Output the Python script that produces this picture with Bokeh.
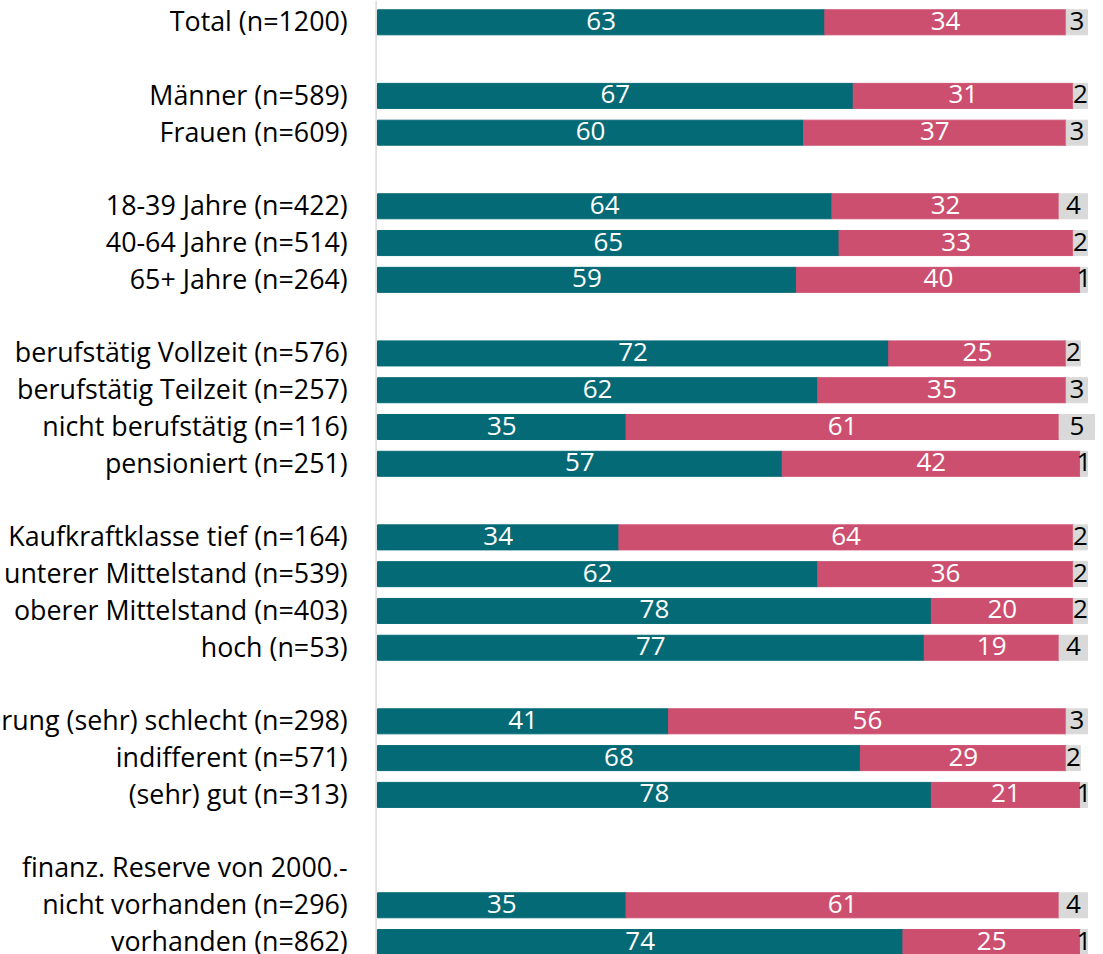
from bokeh.plotting import figure
from bokeh.models import ColumnDataSource, Range1d, Span
from bokeh.core.properties import value
from bokeh.embed import file_html
from bokeh.resources import INLINE

# Row labels ("" = empty spacer row)
categories = [
    "Total (n=1200)", "",
    "Männer (n=589)", "Frauen (n=609)", "",
    "18-39 Jahre (n=422)", "40-64 Jahre (n=514)", "65+ Jahre (n=264)", "",
    "berufstätig Vollzeit (n=576)", "berufstätig Teilzeit (n=257)",
    "nicht berufstätig (n=116)", "pensioniert (n=251)", "",
    "Kaufkraftklasse tief (n=164)", "unterer Mittelstand (n=539)",
    "oberer Mittelstand (n=403)", "hoch (n=53)", "",
    "erung (sehr) schlecht (n=298)", "indifferent (n=571)", "(sehr) gut (n=313)", "",
    "finanz. Reserve von 2000.-",
    "nicht vorhanden (n=296)", "vorhanden (n=862)",
]
series_a = [63, None, 67, 60, None, 64, 65, 59, None, 72, 62, 35, 57, None,
            34, 62, 78, 77, None, 41, 68, 78, None, None, 35, 74]
series_b = [34, None, 31, 37, None, 32, 33, 40, None, 25, 35, 61, 42, None,
            64, 36, 20, 19, None, 56, 29, 21, None, None, 61, 25]
series_c = [3, None, 2, 3, None, 4, 2, 1, None, 2, 3, 5, 1, None,
            2, 2, 2, 4, None, 3, 2, 1, None, None, 4, 1]

TEAL = "#046a75"
PINK = "#cd4f6f"
GREY = "#d9d9d9"
FONT = value("Open Sans")
FS_LAB = "26.8px"
FS_NUM = "26px"

ys, a, b, c = [], [], [], []
for i, (va, vb, vc) in enumerate(zip(series_a, series_b, series_c)):
    if va is None:
        continue
    ys.append(i); a.append(va); b.append(vb); c.append(vc)

ab = [x + y for x, y in zip(a, b)]
abc = [x + y for x, y in zip(ab, c)]

src = ColumnDataSource(dict(
    y=ys, a=a, b=b, c=c, ab=ab, abc=abc,
    ax=[v / 2 for v in a],
    bx=[x + y / 2 for x, y in zip(a, b)],
    cx=[x + y / 2 for x, y in zip(ab, c)],
    at=[str(v) for v in a], bt=[str(v) for v in b], ct=[str(v) for v in c],
))

lab_src = ColumnDataSource(dict(
    y=list(range(len(categories))), t=categories,
))

p = figure(width=1103, height=954, output_backend="svg", toolbar_location=None,
           x_range=Range1d(-53.10, 102.25), y_range=Range1d(25.338, -0.593),
           min_border=0, outline_line_color=None)
p.axis.visible = False
p.grid.visible = False
p.background_fill_color = "white"

p.add_layout(Span(location=-0.2, dimension="height", line_color=GREY, line_width=1.5))

p.hbar(y="y", left=0, right="a", height=0.68, color=TEAL, source=src)
p.hbar(y="y", left="a", right="ab", height=0.68, color=PINK, source=src)
p.hbar(y="y", left="ab", right="abc", height=0.68, color=GREY, source=src)

for xcol, tcol, col in (("ax", "at", "white"), ("bx", "bt", "white"), ("cx", "ct", "black")):
    p.text(x=xcol, y="y", text=tcol, source=src, text_align="center", text_baseline="middle",
           text_color=col, text_font=FONT, text_font_size=FS_NUM, y_offset=-1.5)

p.text(x=-4.2, y="y", text="t", source=lab_src, text_align="right", text_baseline="middle",
       text_color="black", text_font=FONT, text_font_size=FS_LAB, y_offset=-1.5)

open("out.html", "w").write(file_html(p, INLINE))
